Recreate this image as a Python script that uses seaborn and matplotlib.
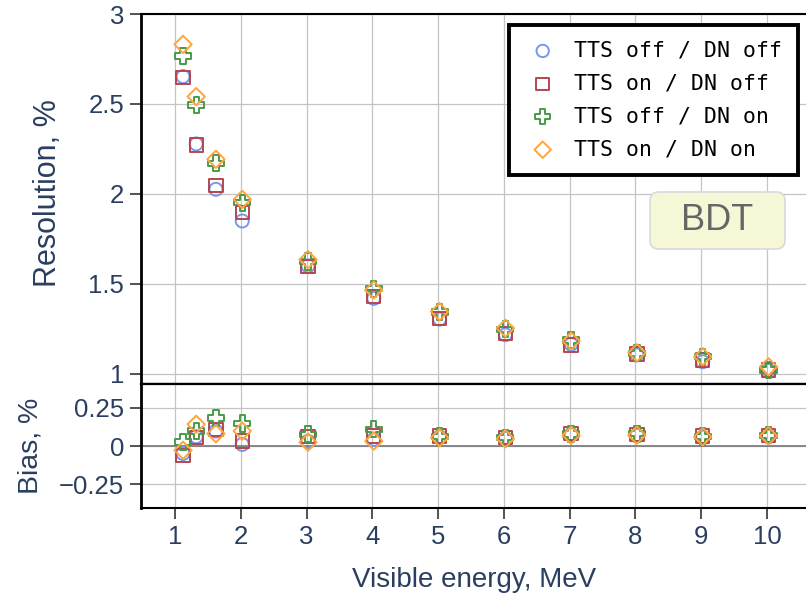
import numpy as np
import pandas as pd
import matplotlib
matplotlib.use("Agg")
import matplotlib.pyplot as plt
import seaborn as sns
from matplotlib.patches import FancyBboxPatch
from matplotlib.ticker import FuncFormatter, FixedLocator

# ---------------- data ----------------
energy = [1.122, 1.322, 1.622, 2.022, 3.022, 4.022, 5.022, 6.022, 7.022, 8.022, 9.022, 10.022]

labels = ["TTS off / DN off", "TTS on / DN off", "TTS off / DN on", "TTS on / DN on"]

res_off_off = [2.652, 2.278, 2.026, 1.850, 1.600, 1.420, 1.305, 1.218, 1.165, 1.106, 1.068, 1.020]
res_on_off  = [2.646, 2.272, 2.048, 1.898, 1.598, 1.430, 1.309, 1.226, 1.161, 1.111, 1.078, 1.022]
res_off_on  = [2.767, 2.494, 2.171, 1.952, 1.625, 1.474, 1.345, 1.248, 1.189, 1.115, 1.096, 1.022]
res_on_on   = [2.831, 2.541, 2.193, 1.970, 1.635, 1.467, 1.346, 1.254, 1.183, 1.118, 1.096, 1.040]

bias_off_off = [-0.049, 0.060, 0.097, 0.010, 0.030, 0.043, 0.060, 0.050, 0.075, 0.070, 0.058, 0.065]
bias_on_off  = [-0.062, 0.054, 0.108, 0.032, 0.060, 0.065, 0.065, 0.054, 0.080, 0.076, 0.065, 0.069]
bias_off_on  = [0.025, 0.097, 0.181, 0.146, 0.076, 0.108, 0.062, 0.054, 0.078, 0.080, 0.062, 0.069]
bias_on_on   = [-0.028, 0.141, 0.080, 0.097, 0.025, 0.032, 0.054, 0.047, 0.070, 0.070, 0.060, 0.066]

res_list = [res_off_off, res_on_off, res_off_on, res_on_on]
bias_list = [bias_off_off, bias_on_off, bias_off_on, bias_on_on]

markers = ["o", "s", "P", "D"]
colors = ["#7a96ea", "#b4464f", "#4a9a4a", "#ffa53d"]
sizes = [88, 92, 135, 78]

rows = []
for lab, r, b in zip(labels, res_list, bias_list):
    for e, rv, bv in zip(energy, r, b):
        rows.append({"E": e, "res": rv, "bias": bv, "cfg": lab})
df = pd.DataFrame(rows)

# ---------------- style ----------------
sns.set_theme(style="whitegrid")
plt.rcParams["font.family"] = ["Liberation Sans", "DejaVu Sans"]
plt.rcParams["axes.unicode_minus"] = True

txt_col = "#2a3f5f"
grid_col = "#c4c4c4"

W, H = 806, 597
fig = plt.figure(figsize=(W / 100, H / 100), dpi=100)

left_px, right_px = 141, 806.5
top_px, mid_px, bot_px = 14, 383.7, 508.3

def fx(px):
    return px / W

def fy(py):
    return 1 - py / H

ax_top = fig.add_axes([fx(left_px), fy(mid_px), fx(right_px - left_px), (mid_px - top_px) / H])
ax_bot = fig.add_axes([fx(left_px), fy(bot_px), fx(right_px - left_px), (bot_px - mid_px) / H])

for lab, m, c, s in zip(labels, markers, colors, sizes):
    sub = df[df["cfg"] == lab]
    sns.scatterplot(data=sub, x="E", y="res", ax=ax_top, marker=m, s=s,
                    facecolor="none", edgecolor=c, linewidth=1.4, label=lab, zorder=3)
    sns.scatterplot(data=sub, x="E", y="bias", ax=ax_bot, marker=m, s=s,
                    facecolor="none", edgecolor=c, linewidth=1.4, legend=False, zorder=3)

xlim = (0.483, 10.6)
for ax in (ax_top, ax_bot):
    ax.set_xlim(*xlim)
    ax.xaxis.set_major_locator(FixedLocator(list(range(1, 11))))
    ax.set_facecolor("white")
    ax.grid(True, color=grid_col, linewidth=0.9)
    ax.tick_params(axis="both", which="major", direction="out", length=8, width=1.3,
                   color="#444444", labelcolor=txt_col, labelsize=18.5, pad=4, left=True, bottom=True)
    for sp in ax.spines.values():
        sp.set_color("black")
    ax.spines["right"].set_visible(False)
    ax.spines["left"].set_linewidth(2.0)

ax_top.set_ylim(0.946, 3.0)
ax_top.yaxis.set_major_locator(FixedLocator([1, 1.5, 2, 2.5, 3]))
ax_top.yaxis.set_major_formatter(FuncFormatter(lambda v, p: f"{v:g}"))
ax_top.tick_params(axis="x", labelbottom=False)
ax_top.spines["top"].set_linewidth(1.5)
ax_top.spines["bottom"].set_linewidth(1.6)
ax_top.set_xlabel("")
ax_top.set_ylabel("Resolution, %", fontsize=22, color=txt_col)
ax_top.yaxis.set_label_coords(-0.117, 0.515)

ax_bot.set_ylim(-0.405, 0.405)
ax_bot.yaxis.set_major_locator(FixedLocator([-0.25, 0, 0.25]))
ax_bot.yaxis.set_major_formatter(FuncFormatter(lambda v, p: f"{v:g}".replace("-", "\u2212")))
ax_bot.axhline(0, color="#777777", linewidth=1.2, zorder=1)
ax_bot.spines["top"].set_linewidth(1.6)
ax_bot.spines["bottom"].set_linewidth(1.5)
ax_bot.set_xlabel("Visible energy, MeV", fontsize=20, color=txt_col, labelpad=13)
ax_bot.set_ylabel("Bias, %", fontsize=20.5, color=txt_col)
ax_bot.yaxis.set_label_coords(-0.147, 0.50)

leg = ax_top.legend(loc="upper right", bbox_to_anchor=(0.987, 0.970),
                    prop={"family": "DejaVu Sans Mono", "size": 15.5},
                    frameon=True, fancybox=False, framealpha=1, edgecolor="black",
                    borderpad=0.72, labelspacing=0.6, handletextpad=0.62,
                    handlelength=1.7, borderaxespad=0, markerscale=0.95)
leg.get_frame().set_linewidth(2.8)
for t in leg.get_texts():
    t.set_color("black")

# BDT box
bx0, by0, bw, bh = 650, 192, 135, 57
box = FancyBboxPatch((fx(bx0), fy(by0 + bh)), bw / W, bh / H,
                     boxstyle="round,pad=0,rounding_size=0.011",
                     mutation_aspect=W / H, transform=fig.transFigure,
                     facecolor="#f5f7d6", edgecolor="#d9d9d9", linewidth=1.2, zorder=5)
fig.patches.append(box)
fig.text(fx(bx0 + bw / 2), fy(by0 + bh / 2), "BDT", ha="center", va="center",
         fontsize=26, color="#666666", zorder=6)

fig.savefig("out.png", dpi=100)
